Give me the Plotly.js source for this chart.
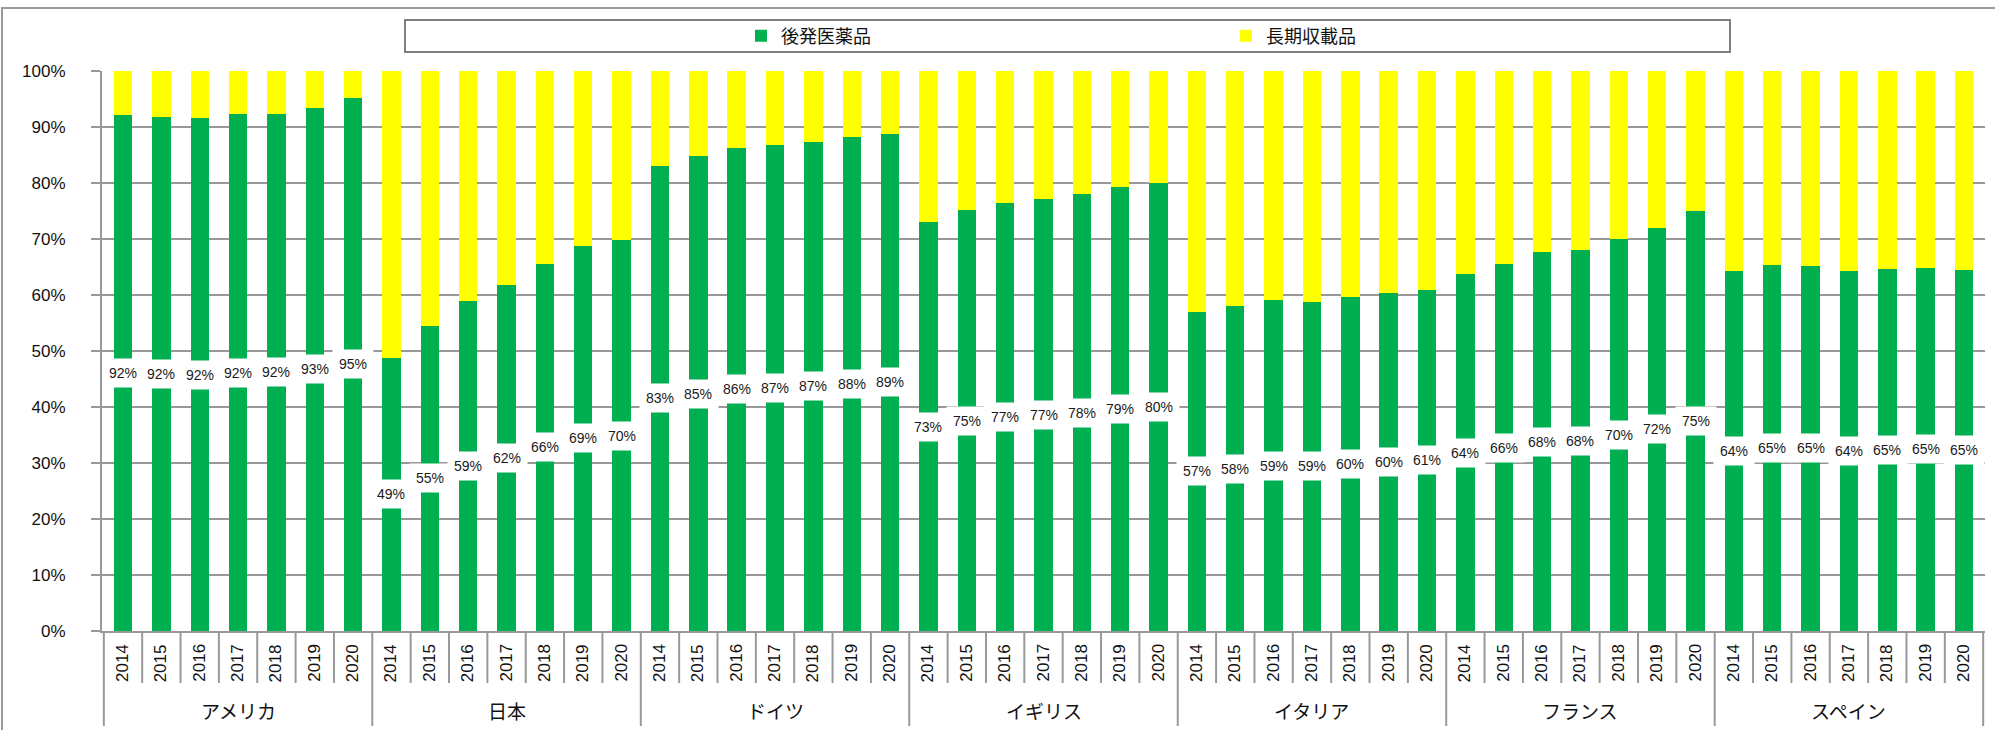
<!DOCTYPE html>
<html>
<head>
<meta charset="utf-8">
<script src="https://cdn.plot.ly/plotly-3.0.1.min.js"></script>
<style>html,body{margin:0;padding:0;background:#fff;}#chart{width:1995px;height:730px;}</style>
</head>
<body>
<div id="chart"></div>
<script>
// ---- data ----
const countries = ["アメリカ", "日本", "ドイツ", "イギリス", "イタリア", "フランス", "スペイン"];
const years = ["2014", "2015", "2016", "2017", "2018", "2019", "2020"];
// generic share (%) per country, years 2014..2020
const usGeneric      = [92.1, 91.8, 91.6, 92.3, 92.4, 93.4, 95.2];
const japanGeneric   = [48.8, 54.5, 59.0, 61.8, 65.6, 68.8, 69.8];
const germanyGeneric = [83.1, 84.8, 86.3, 86.8, 87.4, 88.2, 88.8];
const ukGeneric      = [73.0, 75.1, 76.5, 77.1, 78.0, 79.2, 80.0];
const italyGeneric   = [57.0, 58.0, 59.1, 58.8, 59.6, 60.4, 60.9];
const franceGeneric  = [63.7, 65.5, 67.6, 68.0, 70.0, 72.0, 75.0];
const spainGeneric   = [64.3, 65.4, 65.2, 64.2, 64.6, 64.9, 64.5];
const seriesNames = ["後発医薬品", "長期収載品"];
const yTickVals = [0, 10, 20, 30, 40, 50, 60, 70, 80, 90, 100];

// ---- build ----
const genericByCountry = [usGeneric, japanGeneric, germanyGeneric, ukGeneric, italyGeneric, franceGeneric, spainGeneric];
const xCats = [], generic = [], longListed = [];
countries.forEach((c, ci) => {
  years.forEach((y, yi) => {
    xCats.push(c + " " + y);
    generic.push(genericByCountry[ci][yi]);
    longListed.push(+(100 - genericByCountry[ci][yi]).toFixed(1));
  });
});
const N = xCats.length;
const nY = years.length;

// pixel helpers for paper-referenced decorations
const L = 102, R = 10, T = 71, B = 99, W = 1995, H = 730;
const pw = W - L - R, ph = H - T - B;
const px = v => (v - L) / pw;
const py = v => (H - B - v) / ph;

const traces = [
  {type: "bar", name: seriesNames[0], x: xCats, y: generic, marker: {color: "#00B050"}, hoverinfo: "x+y"},
  {type: "bar", name: seriesNames[1], x: xCats, y: longListed, marker: {color: "#FFFF00"}, hoverinfo: "x+y"}
];

const annotations = [];
const shapes = [];
// data labels
generic.forEach((v, i) => {
  annotations.push({
    x: i, y: v / 2, xref: "x", yref: "y", text: Math.round(v) + "%",
    showarrow: false, bgcolor: "#ffffff", borderpad: 6,
    font: {family: "Liberation Sans, Arial, sans-serif", size: 14, color: "#1a1a1a"}
  });
});
// year labels
xCats.forEach((c, i) => {
  annotations.push({
    x: i, y: py(684), xref: "x", yref: "paper", text: years[i % nY],
    textangle: -90, showarrow: false, yanchor: "bottom", xanchor: "center",
    font: {family: "Liberation Sans, Arial, sans-serif", size: 17, color: "#111"}
  });
});
// country labels
countries.forEach((c, ci) => {
  annotations.push({
    x: ci * nY + (nY - 1) / 2, y: py(710), xref: "x", yref: "paper", text: c,
    showarrow: false, yanchor: "middle", xanchor: "center",
    font: {family: "Noto Sans CJK JP, sans-serif", size: 19, color: "#111"}
  });
});
// separators
for (let i = 0; i <= N; i++) {
  const isGroup = (i % nY === 0);
  shapes.push({
    type: "line", xref: "x", yref: "paper", x0: i - 0.5, x1: i - 0.5,
    y0: 0, y1: py(isGroup ? 726 : 683),
    line: {color: "#999999", width: 2}
  });
}
// legend frame
shapes.push({type: "rect", xref: "paper", yref: "paper", x0: px(405), x1: px(1730), y0: py(52), y1: py(20),
  line: {color: "#808080", width: 2}, fillcolor: "rgba(0,0,0,0)"});
// outer frame
shapes.push({type: "rect", xref: "paper", yref: "paper", x0: px(2), x1: px(2010), y0: py(745), y1: py(8),
  line: {color: "#999999", width: 2}, fillcolor: "rgba(0,0,0,0)"});

const layout = {
  width: W, height: H,
  margin: {l: L, r: R, t: T, b: B, pad: 0},
  paper_bgcolor: "#ffffff", plot_bgcolor: "#ffffff",
  barmode: "stack", bargap: 0.52,
  font: {family: "Liberation Sans, Arial, sans-serif", color: "#111"},
  showlegend: true,
  legend: {
    orientation: "h", x: px(741), xanchor: "left", y: py(36), yanchor: "middle",
    bgcolor: "rgba(0,0,0,0)", borderwidth: 0,
    entrywidth: 440, entrywidthmode: "pixels", traceorder: "normal",
    font: {family: "Noto Sans CJK JP, sans-serif", size: 18, color: "#111"}
  },
  xaxis: {
    type: "category", showticklabels: false, ticks: "", showgrid: false,
    showline: true, linecolor: "#999999", linewidth: 2, zeroline: false, fixedrange: true
  },
  yaxis: {
    range: [0, 100], tickmode: "array", tickvals: yTickVals,
    ticktext: yTickVals.map(v => v + "%"),
    ticks: "outside", ticklen: 9, tickcolor: "#999999", tickwidth: 2,
    showgrid: true, gridcolor: "#999999", gridwidth: 2,
    showline: true, linecolor: "#999999", linewidth: 2, zeroline: false,
    ticklabelstandoff: 22,
    tickfont: {family: "Liberation Sans, Arial, sans-serif", size: 17, color: "#111"}
  },
  annotations: annotations,
  shapes: shapes
};

Plotly.newPlot("chart", traces, layout, {displayModeBar: false, staticPlot: true});
</script>
</body>
</html>
